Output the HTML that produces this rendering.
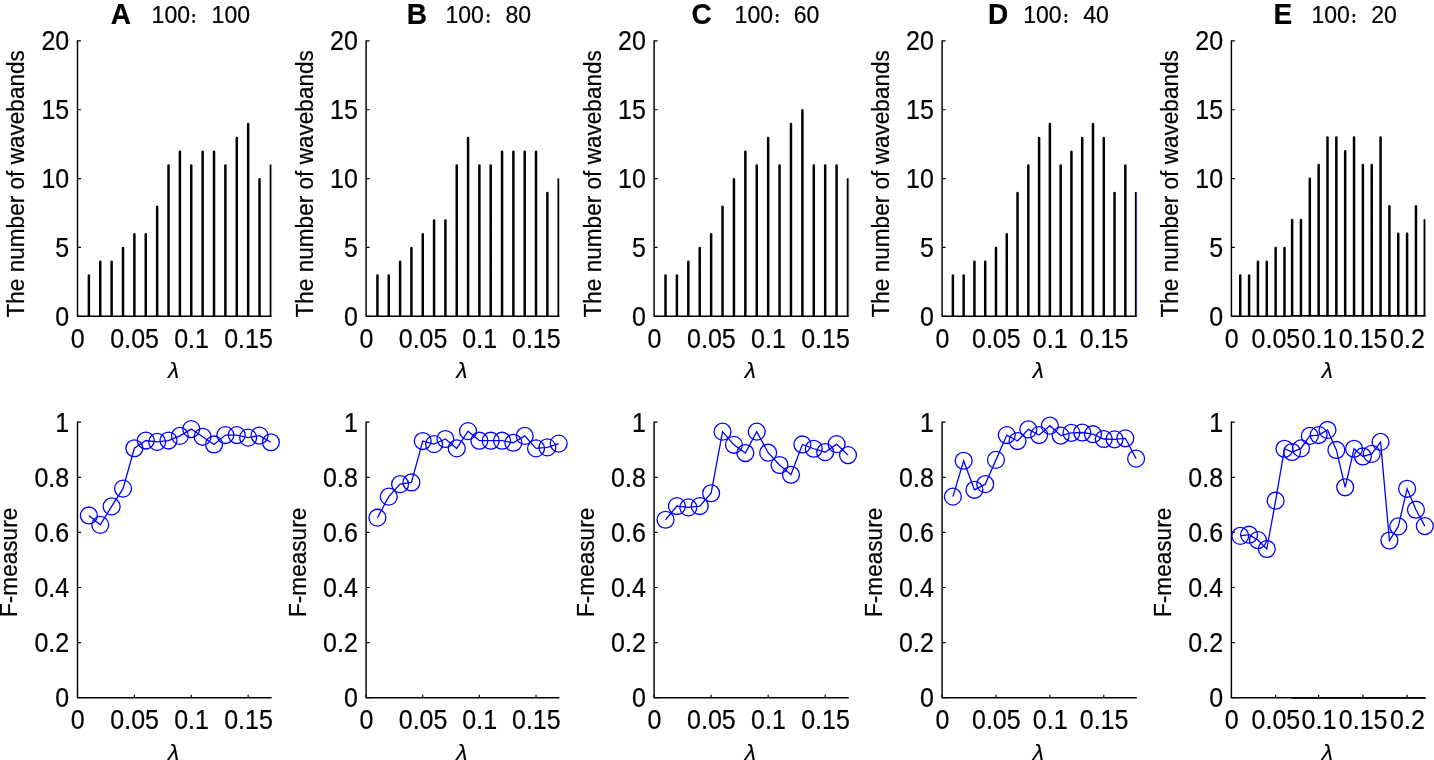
<!DOCTYPE html>
<html lang="en">
<head>
<meta charset="utf-8">
<title>Number of wavebands and F-measure versus lambda</title>
<style>
html,body{margin:0;padding:0;background:#fff;}
body{width:1434px;height:760px;overflow:hidden;}
svg{display:block;will-change:transform;}
svg text{font-family:"Liberation Sans", Arial, Helvetica, sans-serif;fill:#000;stroke:#000;stroke-width:0.22px;stroke-linejoin:round;}
svg text.cjk{font-family:"Liberation Sans","Noto Serif CJK SC","Noto Sans CJK SC",serif;font-weight:900;stroke-width:0;}
</style>
</head>
<body>
<svg width="1434" height="760" viewBox="0 0 1434 760">
<rect width="1434" height="760" fill="#fff"/>
<text transform="translate(110.7 24) scale(0.946 1)" font-size="29.6" text-anchor="start" font-weight="bold" stroke-width="0.1">A</text>
<text x="151.6" y="22.7" font-size="23" text-anchor="start">100</text>
<text x="189.5" y="22.95" font-size="14.6" text-anchor="start" lang="zh-CN" class="cjk">：</text>
<text x="211.6" y="22.7" font-size="23" text-anchor="start">100</text>
<path d="M77.5 40.17V316.3H271.62" fill="none" stroke="#000" stroke-width="1.45" stroke-linejoin="round"/>
<text transform="translate(69.2 325.7) scale(0.9328 1)" font-size="26.8" text-anchor="end">0</text>
<text transform="translate(69.2 256.85) scale(0.9328 1)" font-size="26.8" text-anchor="end">5</text>
<text transform="translate(69.2 188) scale(0.9328 1)" font-size="26.8" text-anchor="end">10</text>
<text transform="translate(69.2 119.15) scale(0.9328 1)" font-size="26.8" text-anchor="end">15</text>
<text transform="translate(69.2 50.3) scale(0.9328 1)" font-size="26.8" text-anchor="end">20</text>
<text transform="translate(77.8 347.9) scale(0.9328 1)" font-size="26.8" text-anchor="middle">0</text>
<text transform="translate(134.68 347.9) scale(0.9328 1)" font-size="26.8" text-anchor="middle">0.05</text>
<text transform="translate(191.56 347.9) scale(0.9328 1)" font-size="26.8" text-anchor="middle">0.1</text>
<text transform="translate(248.45 347.9) scale(0.9328 1)" font-size="26.8" text-anchor="middle">0.15</text>
<path d="M77.5 316.3h3.5M77.5 247.45h3.5M77.5 178.6h3.5M77.5 109.75h3.5M77.5 40.9h3.5" fill="none" stroke="#000" stroke-width="1.2"/>
<text x="173.5" y="378.3" font-size="22.6" text-anchor="middle" font-style="italic">λ</text>
<text transform="translate(23.9 183.8) rotate(-90) scale(0.975 1)" font-size="23.18" text-anchor="middle">The number of wavebands</text>
<path d="M88.88 315.6V275.59M100.25 315.6V261.82M111.63 315.6V261.82M123.01 315.6V248.05M134.38 315.6V234.28M145.76 315.6V234.28M157.14 315.6V206.74M168.51 315.6V165.43M179.89 315.6V151.66M191.26 315.6V165.43M202.64 315.6V151.66M214.02 315.6V151.66M225.39 315.6V165.43M236.77 315.6V137.89M248.15 315.6V124.12M259.52 315.6V179.2" fill="none" stroke="#000" stroke-width="2.5" stroke-linecap="round"/>
<rect x="269.65" y="164.53" width="1.7" height="151.77" fill="#000"/>
<rect x="271.35" y="164.53" width="0.7" height="151.77" fill="#5555b5" fill-opacity="0.4"/>
<path d="M77.5 421.47V697.7H271.62" fill="none" stroke="#000" stroke-width="1.45" stroke-linejoin="round"/>
<text transform="translate(69.2 707.1) scale(0.9328 1)" font-size="26.8" text-anchor="end">0</text>
<text transform="translate(69.2 652) scale(0.9328 1)" font-size="26.8" text-anchor="end">0.2</text>
<text transform="translate(69.2 596.9) scale(0.9328 1)" font-size="26.8" text-anchor="end">0.4</text>
<text transform="translate(69.2 541.8) scale(0.9328 1)" font-size="26.8" text-anchor="end">0.6</text>
<text transform="translate(69.2 486.7) scale(0.9328 1)" font-size="26.8" text-anchor="end">0.8</text>
<text transform="translate(69.2 431.6) scale(0.9328 1)" font-size="26.8" text-anchor="end">1</text>
<text transform="translate(77.8 729.3) scale(0.9328 1)" font-size="26.8" text-anchor="middle">0</text>
<text transform="translate(134.68 729.3) scale(0.9328 1)" font-size="26.8" text-anchor="middle">0.05</text>
<text transform="translate(191.56 729.3) scale(0.9328 1)" font-size="26.8" text-anchor="middle">0.1</text>
<text transform="translate(248.45 729.3) scale(0.9328 1)" font-size="26.8" text-anchor="middle">0.15</text>
<path d="M77.5 697.7h3.5M77.5 642.6h3.5M77.5 587.5h3.5M77.5 532.4h3.5M77.5 477.3h3.5M77.5 422.2h3.5M77.5 697.7v-3M134.38 697.7v-3M191.26 697.7v-3M248.15 697.7v-3" fill="none" stroke="#000" stroke-width="1.2"/>
<text x="173.5" y="759.7" font-size="22.6" text-anchor="middle" font-style="italic">λ</text>
<text transform="translate(17 562.35) rotate(-90) scale(0.975 1)" font-size="23.18" text-anchor="middle">F-measure</text>
<polyline points="88.88,515.46 100.25,524.87 111.63,506.4 123.01,488.61 134.38,448.24 145.76,440.54 157.14,441.91 168.51,440.54 179.89,435.92 191.26,429.08 202.64,436.78 214.02,444.47 225.39,435.07 236.77,435.07 248.15,437.63 259.52,435.58 270.9,442.25" fill="none" stroke="#00f" stroke-width="1.3" stroke-linejoin="miter"/>
<g fill="none" stroke="#00f" stroke-width="1.3"><circle cx="88.88" cy="515.46" r="8.45"/><circle cx="100.25" cy="524.87" r="8.45"/><circle cx="111.63" cy="506.4" r="8.45"/><circle cx="123.01" cy="488.61" r="8.45"/><circle cx="134.38" cy="448.24" r="8.45"/><circle cx="145.76" cy="440.54" r="8.45"/><circle cx="157.14" cy="441.91" r="8.45"/><circle cx="168.51" cy="440.54" r="8.45"/><circle cx="179.89" cy="435.92" r="8.45"/><circle cx="191.26" cy="429.08" r="8.45"/><circle cx="202.64" cy="436.78" r="8.45"/><circle cx="214.02" cy="444.47" r="8.45"/><circle cx="225.39" cy="435.07" r="8.45"/><circle cx="236.77" cy="435.07" r="8.45"/><circle cx="248.15" cy="437.63" r="8.45"/><circle cx="259.52" cy="435.58" r="8.45"/><circle cx="270.9" cy="442.25" r="8.45"/></g>
<text transform="translate(406.8 24) scale(0.946 1)" font-size="29.6" text-anchor="start" font-weight="bold" stroke-width="0.1">B</text>
<text x="445.4" y="22.7" font-size="23" text-anchor="start">100</text>
<text x="484" y="22.95" font-size="14.6" text-anchor="start" lang="zh-CN" class="cjk">：</text>
<text x="505.4" y="22.7" font-size="23" text-anchor="start">80</text>
<path d="M366.1 40.17V316.3H559.43" fill="none" stroke="#000" stroke-width="1.45" stroke-linejoin="round"/>
<text transform="translate(357.8 325.7) scale(0.9328 1)" font-size="26.8" text-anchor="end">0</text>
<text transform="translate(357.8 256.85) scale(0.9328 1)" font-size="26.8" text-anchor="end">5</text>
<text transform="translate(357.8 188) scale(0.9328 1)" font-size="26.8" text-anchor="end">10</text>
<text transform="translate(357.8 119.15) scale(0.9328 1)" font-size="26.8" text-anchor="end">15</text>
<text transform="translate(357.8 50.3) scale(0.9328 1)" font-size="26.8" text-anchor="end">20</text>
<text transform="translate(366.4 347.9) scale(0.9328 1)" font-size="26.8" text-anchor="middle">0</text>
<text transform="translate(423.05 347.9) scale(0.9328 1)" font-size="26.8" text-anchor="middle">0.05</text>
<text transform="translate(479.69 347.9) scale(0.9328 1)" font-size="26.8" text-anchor="middle">0.1</text>
<text transform="translate(536.34 347.9) scale(0.9328 1)" font-size="26.8" text-anchor="middle">0.15</text>
<path d="M366.1 316.3h3.5M366.1 247.45h3.5M366.1 178.6h3.5M366.1 109.75h3.5M366.1 40.9h3.5" fill="none" stroke="#000" stroke-width="1.2"/>
<text x="461.7" y="378.3" font-size="22.6" text-anchor="middle" font-style="italic">λ</text>
<text transform="translate(312.5 183.8) rotate(-90) scale(0.975 1)" font-size="23.18" text-anchor="middle">The number of wavebands</text>
<path d="M377.43 315.6V275.59M388.76 315.6V275.59M400.09 315.6V261.82M411.42 315.6V248.05M422.75 315.6V234.28M434.08 315.6V220.51M445.41 315.6V220.51M456.74 315.6V165.43M468.06 315.6V137.89M479.39 315.6V165.43M490.72 315.6V165.43M502.05 315.6V151.66M513.38 315.6V151.66M524.71 315.6V151.66M536.04 315.6V151.66M547.37 315.6V192.97" fill="none" stroke="#000" stroke-width="2.5" stroke-linecap="round"/>
<rect x="557.45" y="178.3" width="1.7" height="138" fill="#000"/>
<rect x="559.15" y="178.3" width="0.7" height="138" fill="#6a6ad0" fill-opacity="0.35"/>
<path d="M366.1 421.47V697.7H559.43" fill="none" stroke="#000" stroke-width="1.45" stroke-linejoin="round"/>
<text transform="translate(357.8 707.1) scale(0.9328 1)" font-size="26.8" text-anchor="end">0</text>
<text transform="translate(357.8 652) scale(0.9328 1)" font-size="26.8" text-anchor="end">0.2</text>
<text transform="translate(357.8 596.9) scale(0.9328 1)" font-size="26.8" text-anchor="end">0.4</text>
<text transform="translate(357.8 541.8) scale(0.9328 1)" font-size="26.8" text-anchor="end">0.6</text>
<text transform="translate(357.8 486.7) scale(0.9328 1)" font-size="26.8" text-anchor="end">0.8</text>
<text transform="translate(357.8 431.6) scale(0.9328 1)" font-size="26.8" text-anchor="end">1</text>
<text transform="translate(366.4 729.3) scale(0.9328 1)" font-size="26.8" text-anchor="middle">0</text>
<text transform="translate(423.05 729.3) scale(0.9328 1)" font-size="26.8" text-anchor="middle">0.05</text>
<text transform="translate(479.69 729.3) scale(0.9328 1)" font-size="26.8" text-anchor="middle">0.1</text>
<text transform="translate(536.34 729.3) scale(0.9328 1)" font-size="26.8" text-anchor="middle">0.15</text>
<path d="M366.1 697.7h3.5M366.1 642.6h3.5M366.1 587.5h3.5M366.1 532.4h3.5M366.1 477.3h3.5M366.1 422.2h3.5M366.1 697.7v-3M422.75 697.7v-3M479.39 697.7v-3M536.04 697.7v-3" fill="none" stroke="#000" stroke-width="1.2"/>
<text x="461.7" y="759.7" font-size="22.6" text-anchor="middle" font-style="italic">λ</text>
<text transform="translate(305.6 562.35) rotate(-90) scale(0.975 1)" font-size="23.18" text-anchor="middle">F-measure</text>
<polyline points="377.43,517.69 388.76,496.65 400.09,484.16 411.42,482.45 422.75,441.05 434.08,444.13 445.41,439 456.74,448.41 468.06,431.13 479.39,440.71 490.72,440.71 502.05,440.71 513.38,442.76 524.71,435.92 536.04,448.41 547.37,447.38 558.7,443.62" fill="none" stroke="#00f" stroke-width="1.3" stroke-linejoin="miter"/>
<g fill="none" stroke="#00f" stroke-width="1.3"><circle cx="377.43" cy="517.69" r="8.45"/><circle cx="388.76" cy="496.65" r="8.45"/><circle cx="400.09" cy="484.16" r="8.45"/><circle cx="411.42" cy="482.45" r="8.45"/><circle cx="422.75" cy="441.05" r="8.45"/><circle cx="434.08" cy="444.13" r="8.45"/><circle cx="445.41" cy="439" r="8.45"/><circle cx="456.74" cy="448.41" r="8.45"/><circle cx="468.06" cy="431.13" r="8.45"/><circle cx="479.39" cy="440.71" r="8.45"/><circle cx="490.72" cy="440.71" r="8.45"/><circle cx="502.05" cy="440.71" r="8.45"/><circle cx="513.38" cy="442.76" r="8.45"/><circle cx="524.71" cy="435.92" r="8.45"/><circle cx="536.04" cy="448.41" r="8.45"/><circle cx="547.37" cy="447.38" r="8.45"/><circle cx="558.7" cy="443.62" r="8.45"/></g>
<text transform="translate(691.6 24) scale(0.946 1)" font-size="29.6" text-anchor="start" font-weight="bold" stroke-width="0.1">C</text>
<text x="734.6" y="22.7" font-size="23" text-anchor="start">100</text>
<text x="772.9" y="22.95" font-size="14.6" text-anchor="start" lang="zh-CN" class="cjk">：</text>
<text x="793.7" y="22.7" font-size="23" text-anchor="start">60</text>
<path d="M654.1 40.17V316.3H848.73" fill="none" stroke="#000" stroke-width="1.45" stroke-linejoin="round"/>
<text transform="translate(645.8 325.7) scale(0.9328 1)" font-size="26.8" text-anchor="end">0</text>
<text transform="translate(645.8 256.85) scale(0.9328 1)" font-size="26.8" text-anchor="end">5</text>
<text transform="translate(645.8 188) scale(0.9328 1)" font-size="26.8" text-anchor="end">10</text>
<text transform="translate(645.8 119.15) scale(0.9328 1)" font-size="26.8" text-anchor="end">15</text>
<text transform="translate(645.8 50.3) scale(0.9328 1)" font-size="26.8" text-anchor="end">20</text>
<text transform="translate(654.4 347.9) scale(0.9328 1)" font-size="26.8" text-anchor="middle">0</text>
<text transform="translate(711.43 347.9) scale(0.9328 1)" font-size="26.8" text-anchor="middle">0.05</text>
<text transform="translate(768.46 347.9) scale(0.9328 1)" font-size="26.8" text-anchor="middle">0.1</text>
<text transform="translate(825.49 347.9) scale(0.9328 1)" font-size="26.8" text-anchor="middle">0.15</text>
<path d="M654.1 316.3h3.5M654.1 247.45h3.5M654.1 178.6h3.5M654.1 109.75h3.5M654.1 40.9h3.5" fill="none" stroke="#000" stroke-width="1.2"/>
<text x="750.35" y="378.3" font-size="22.6" text-anchor="middle" font-style="italic">λ</text>
<text transform="translate(600.5 183.8) rotate(-90) scale(0.975 1)" font-size="23.18" text-anchor="middle">The number of wavebands</text>
<path d="M665.51 315.6V275.59M676.91 315.6V275.59M688.32 315.6V261.82M699.72 315.6V248.05M711.13 315.6V234.28M722.54 315.6V206.74M733.94 315.6V179.2M745.35 315.6V151.66M756.75 315.6V165.43M768.16 315.6V137.89M779.56 315.6V165.43M790.97 315.6V124.12M802.38 315.6V110.35M813.78 315.6V165.43M825.19 315.6V165.43M836.59 315.6V165.43" fill="none" stroke="#000" stroke-width="2.5" stroke-linecap="round"/>
<rect x="846.75" y="178.3" width="1.8" height="138" fill="#000"/>
<rect x="848.55" y="178.3" width="0.7" height="138" fill="#50508a" fill-opacity="0.6"/>
<path d="M654.1 421.47V697.7H848.73" fill="none" stroke="#000" stroke-width="1.45" stroke-linejoin="round"/>
<text transform="translate(645.8 707.1) scale(0.9328 1)" font-size="26.8" text-anchor="end">0</text>
<text transform="translate(645.8 652) scale(0.9328 1)" font-size="26.8" text-anchor="end">0.2</text>
<text transform="translate(645.8 596.9) scale(0.9328 1)" font-size="26.8" text-anchor="end">0.4</text>
<text transform="translate(645.8 541.8) scale(0.9328 1)" font-size="26.8" text-anchor="end">0.6</text>
<text transform="translate(645.8 486.7) scale(0.9328 1)" font-size="26.8" text-anchor="end">0.8</text>
<text transform="translate(645.8 431.6) scale(0.9328 1)" font-size="26.8" text-anchor="end">1</text>
<text transform="translate(654.4 729.3) scale(0.9328 1)" font-size="26.8" text-anchor="middle">0</text>
<text transform="translate(711.43 729.3) scale(0.9328 1)" font-size="26.8" text-anchor="middle">0.05</text>
<text transform="translate(768.46 729.3) scale(0.9328 1)" font-size="26.8" text-anchor="middle">0.1</text>
<text transform="translate(825.49 729.3) scale(0.9328 1)" font-size="26.8" text-anchor="middle">0.15</text>
<path d="M654.1 697.7h3.5M654.1 642.6h3.5M654.1 587.5h3.5M654.1 532.4h3.5M654.1 477.3h3.5M654.1 422.2h3.5M654.1 697.7v-3M711.13 697.7v-3M768.16 697.7v-3M825.19 697.7v-3" fill="none" stroke="#000" stroke-width="1.2"/>
<text x="750.35" y="759.7" font-size="22.6" text-anchor="middle" font-style="italic">λ</text>
<text transform="translate(593.6 562.35) rotate(-90) scale(0.975 1)" font-size="23.18" text-anchor="middle">F-measure</text>
<polyline points="665.51,519.74 676.91,506.06 688.32,507.42 699.72,506.06 711.13,493.23 722.54,431.65 733.94,444.82 745.35,453.03 756.75,431.65 768.16,452.69 779.56,465 790.97,474.75 802.38,444.47 813.78,448.75 825.19,452.17 836.59,444.13 848,455.08" fill="none" stroke="#00f" stroke-width="1.3" stroke-linejoin="miter"/>
<g fill="none" stroke="#00f" stroke-width="1.3"><circle cx="665.51" cy="519.74" r="8.45"/><circle cx="676.91" cy="506.06" r="8.45"/><circle cx="688.32" cy="507.42" r="8.45"/><circle cx="699.72" cy="506.06" r="8.45"/><circle cx="711.13" cy="493.23" r="8.45"/><circle cx="722.54" cy="431.65" r="8.45"/><circle cx="733.94" cy="444.82" r="8.45"/><circle cx="745.35" cy="453.03" r="8.45"/><circle cx="756.75" cy="431.65" r="8.45"/><circle cx="768.16" cy="452.69" r="8.45"/><circle cx="779.56" cy="465" r="8.45"/><circle cx="790.97" cy="474.75" r="8.45"/><circle cx="802.38" cy="444.47" r="8.45"/><circle cx="813.78" cy="448.75" r="8.45"/><circle cx="825.19" cy="452.17" r="8.45"/><circle cx="836.59" cy="444.13" r="8.45"/><circle cx="848" cy="455.08" r="8.45"/></g>
<text transform="translate(988 24) scale(0.946 1)" font-size="29.6" text-anchor="start" font-weight="bold" stroke-width="0.1">D</text>
<text x="1023.2" y="22.7" font-size="23" text-anchor="start">100</text>
<text x="1061.7" y="22.95" font-size="14.6" text-anchor="start" lang="zh-CN" class="cjk">：</text>
<text x="1083.2" y="22.7" font-size="23" text-anchor="start">40</text>
<path d="M942.1 40.17V316.3H1136.82" fill="none" stroke="#000" stroke-width="1.45" stroke-linejoin="round"/>
<text transform="translate(933.8 325.7) scale(0.9328 1)" font-size="26.8" text-anchor="end">0</text>
<text transform="translate(933.8 256.85) scale(0.9328 1)" font-size="26.8" text-anchor="end">5</text>
<text transform="translate(933.8 188) scale(0.9328 1)" font-size="26.8" text-anchor="end">10</text>
<text transform="translate(933.8 119.15) scale(0.9328 1)" font-size="26.8" text-anchor="end">15</text>
<text transform="translate(933.8 50.3) scale(0.9328 1)" font-size="26.8" text-anchor="end">20</text>
<text transform="translate(942.4 347.9) scale(0.9328 1)" font-size="26.8" text-anchor="middle">0</text>
<text transform="translate(996.29 347.9) scale(0.9328 1)" font-size="26.8" text-anchor="middle">0.05</text>
<text transform="translate(1050.18 347.9) scale(0.9328 1)" font-size="26.8" text-anchor="middle">0.1</text>
<text transform="translate(1104.07 347.9) scale(0.9328 1)" font-size="26.8" text-anchor="middle">0.15</text>
<path d="M942.1 316.3h3.5M942.1 247.45h3.5M942.1 178.6h3.5M942.1 109.75h3.5M942.1 40.9h3.5" fill="none" stroke="#000" stroke-width="1.2"/>
<text x="1038.4" y="378.3" font-size="22.6" text-anchor="middle" font-style="italic">λ</text>
<text transform="translate(888.5 183.8) rotate(-90) scale(0.975 1)" font-size="23.18" text-anchor="middle">The number of wavebands</text>
<path d="M952.88 315.6V275.59M963.66 315.6V275.59M974.43 315.6V261.82M985.21 315.6V261.82M995.99 315.6V248.05M1006.77 315.6V234.28M1017.54 315.6V192.97M1028.32 315.6V165.43M1039.1 315.6V137.89M1049.88 315.6V124.12M1060.66 315.6V165.43M1071.43 315.6V151.66M1082.21 315.6V137.89M1092.99 315.6V124.12M1103.77 315.6V137.89M1114.54 315.6V192.97M1125.32 315.6V165.43" fill="none" stroke="#000" stroke-width="2.5" stroke-linecap="round"/>
<rect x="1134.85" y="192.07" width="1.3" height="124.23" fill="#000"/>
<rect x="1136.15" y="192.07" width="0.95" height="124.23" fill="#20207c" fill-opacity="0.95"/>
<path d="M942.1 421.47V697.7H1136.82" fill="none" stroke="#000" stroke-width="1.45" stroke-linejoin="round"/>
<text transform="translate(933.8 707.1) scale(0.9328 1)" font-size="26.8" text-anchor="end">0</text>
<text transform="translate(933.8 652) scale(0.9328 1)" font-size="26.8" text-anchor="end">0.2</text>
<text transform="translate(933.8 596.9) scale(0.9328 1)" font-size="26.8" text-anchor="end">0.4</text>
<text transform="translate(933.8 541.8) scale(0.9328 1)" font-size="26.8" text-anchor="end">0.6</text>
<text transform="translate(933.8 486.7) scale(0.9328 1)" font-size="26.8" text-anchor="end">0.8</text>
<text transform="translate(933.8 431.6) scale(0.9328 1)" font-size="26.8" text-anchor="end">1</text>
<text transform="translate(942.4 729.3) scale(0.9328 1)" font-size="26.8" text-anchor="middle">0</text>
<text transform="translate(996.29 729.3) scale(0.9328 1)" font-size="26.8" text-anchor="middle">0.05</text>
<text transform="translate(1050.18 729.3) scale(0.9328 1)" font-size="26.8" text-anchor="middle">0.1</text>
<text transform="translate(1104.07 729.3) scale(0.9328 1)" font-size="26.8" text-anchor="middle">0.15</text>
<path d="M942.1 697.7h3.5M942.1 642.6h3.5M942.1 587.5h3.5M942.1 532.4h3.5M942.1 477.3h3.5M942.1 422.2h3.5M942.1 697.7v-3M995.99 697.7v-3M1049.88 697.7v-3M1103.77 697.7v-3" fill="none" stroke="#000" stroke-width="1.2"/>
<text x="1038.4" y="759.7" font-size="22.6" text-anchor="middle" font-style="italic">λ</text>
<text transform="translate(881.6 562.35) rotate(-90) scale(0.975 1)" font-size="23.18" text-anchor="middle">F-measure</text>
<polyline points="952.88,496.65 963.66,460.73 974.43,489.8 985.21,484.16 995.99,459.87 1006.77,435.07 1017.54,441.05 1028.32,429.42 1039.1,435.07 1049.88,425.66 1060.66,435.58 1071.43,432.84 1082.21,432.5 1092.99,434.21 1103.77,439 1114.54,439.34 1125.32,438.32 1136.1,458.67" fill="none" stroke="#00f" stroke-width="1.3" stroke-linejoin="miter"/>
<g fill="none" stroke="#00f" stroke-width="1.3"><circle cx="952.88" cy="496.65" r="8.45"/><circle cx="963.66" cy="460.73" r="8.45"/><circle cx="974.43" cy="489.8" r="8.45"/><circle cx="985.21" cy="484.16" r="8.45"/><circle cx="995.99" cy="459.87" r="8.45"/><circle cx="1006.77" cy="435.07" r="8.45"/><circle cx="1017.54" cy="441.05" r="8.45"/><circle cx="1028.32" cy="429.42" r="8.45"/><circle cx="1039.1" cy="435.07" r="8.45"/><circle cx="1049.88" cy="425.66" r="8.45"/><circle cx="1060.66" cy="435.58" r="8.45"/><circle cx="1071.43" cy="432.84" r="8.45"/><circle cx="1082.21" cy="432.5" r="8.45"/><circle cx="1092.99" cy="434.21" r="8.45"/><circle cx="1103.77" cy="439" r="8.45"/><circle cx="1114.54" cy="439.34" r="8.45"/><circle cx="1125.32" cy="438.32" r="8.45"/><circle cx="1136.1" cy="458.67" r="8.45"/></g>
<text transform="translate(1273.4 24) scale(0.946 1)" font-size="29.6" text-anchor="start" font-weight="bold" stroke-width="0.1">E</text>
<text x="1311.4" y="22.7" font-size="23" text-anchor="start">100</text>
<text x="1349.8" y="22.95" font-size="14.6" text-anchor="start" lang="zh-CN" class="cjk">：</text>
<text x="1371.3" y="22.7" font-size="23" text-anchor="start">20</text>
<path d="M1231.4 40.17V316.3H1290.4" fill="none" stroke="#000" stroke-width="1.45" stroke-linejoin="round"/>
<path d="M1290.2 315.85H1425.52" fill="none" stroke="#000" stroke-width="1.6"/>
<text transform="translate(1223.1 325.7) scale(0.9328 1)" font-size="26.8" text-anchor="end">0</text>
<text transform="translate(1223.1 256.85) scale(0.9328 1)" font-size="26.8" text-anchor="end">5</text>
<text transform="translate(1223.1 188) scale(0.9328 1)" font-size="26.8" text-anchor="end">10</text>
<text transform="translate(1223.1 119.15) scale(0.9328 1)" font-size="26.8" text-anchor="end">15</text>
<text transform="translate(1223.1 50.3) scale(0.9328 1)" font-size="26.8" text-anchor="end">20</text>
<text transform="translate(1231.7 347.9) scale(0.9328 1)" font-size="26.8" text-anchor="middle">0</text>
<text transform="translate(1275.93 347.9) scale(0.9328 1)" font-size="26.8" text-anchor="middle">0.05</text>
<text transform="translate(1318.95 347.9) scale(0.9328 1)" font-size="26.8" text-anchor="middle">0.1</text>
<text transform="translate(1363.18 347.9) scale(0.9328 1)" font-size="26.8" text-anchor="middle">0.15</text>
<text transform="translate(1407.41 347.9) scale(0.9328 1)" font-size="26.8" text-anchor="middle">0.2</text>
<path d="M1231.4 316.3h3.5M1231.4 247.45h3.5M1231.4 178.6h3.5M1231.4 109.75h3.5M1231.4 40.9h3.5" fill="none" stroke="#000" stroke-width="1.2"/>
<text x="1327.4" y="378.3" font-size="22.6" text-anchor="middle" font-style="italic">λ</text>
<text transform="translate(1177.8 183.8) rotate(-90) scale(0.975 1)" font-size="23.18" text-anchor="middle">The number of wavebands</text>
<path d="M1240.25 315.6V275.59M1249.09 315.6V275.59M1257.94 315.6V261.82M1266.78 315.6V261.82M1275.63 315.6V248.05M1284.47 315.6V248.05M1292.12 315.15V220.06M1300.96 315.15V220.06M1309.81 315.15V178.75M1318.65 315.15V164.98M1327.5 315.15V137.44M1336.35 315.15V137.44M1345.19 315.15V151.21M1354.04 315.15V137.44M1362.88 315.15V164.98M1371.73 315.15V164.98M1380.57 315.15V137.44M1389.42 315.15V206.29M1398.26 315.15V233.83M1407.11 315.15V233.83M1415.95 315.15V206.29" fill="none" stroke="#000" stroke-width="2.5" stroke-linecap="round"/>
<rect x="1423.55" y="219.16" width="1.85" height="96.69" fill="#000"/>
<path d="M1231.4 421.47V697.7H1425.52" fill="none" stroke="#000" stroke-width="1.45" stroke-linejoin="round"/>
<path d="M1291.2 698.05H1425.52" fill="none" stroke="#000" stroke-width="1.5"/>
<text transform="translate(1223.1 707.1) scale(0.9328 1)" font-size="26.8" text-anchor="end">0</text>
<text transform="translate(1223.1 652) scale(0.9328 1)" font-size="26.8" text-anchor="end">0.2</text>
<text transform="translate(1223.1 596.9) scale(0.9328 1)" font-size="26.8" text-anchor="end">0.4</text>
<text transform="translate(1223.1 541.8) scale(0.9328 1)" font-size="26.8" text-anchor="end">0.6</text>
<text transform="translate(1223.1 486.7) scale(0.9328 1)" font-size="26.8" text-anchor="end">0.8</text>
<text transform="translate(1223.1 431.6) scale(0.9328 1)" font-size="26.8" text-anchor="end">1</text>
<text transform="translate(1231.7 729.3) scale(0.9328 1)" font-size="26.8" text-anchor="middle">0</text>
<text transform="translate(1275.93 729.3) scale(0.9328 1)" font-size="26.8" text-anchor="middle">0.05</text>
<text transform="translate(1318.95 729.3) scale(0.9328 1)" font-size="26.8" text-anchor="middle">0.1</text>
<text transform="translate(1363.18 729.3) scale(0.9328 1)" font-size="26.8" text-anchor="middle">0.15</text>
<text transform="translate(1407.41 729.3) scale(0.9328 1)" font-size="26.8" text-anchor="middle">0.2</text>
<path d="M1231.4 697.7h3.5M1231.4 642.6h3.5M1231.4 587.5h3.5M1231.4 532.4h3.5M1231.4 477.3h3.5M1231.4 422.2h3.5M1231.4 697.7v-3M1275.63 697.7v-3M1318.65 697.7v-3M1362.88 697.7v-3M1407.11 697.7v-3" fill="none" stroke="#000" stroke-width="1.2"/>
<text x="1327.4" y="759.7" font-size="22.6" text-anchor="middle" font-style="italic">λ</text>
<text transform="translate(1170.9 562.35) rotate(-90) scale(0.975 1)" font-size="23.18" text-anchor="middle">F-measure</text>
<polyline points="1240.25,535.9 1249.09,534.7 1257.94,540.1 1266.78,549 1275.63,500.7 1284.47,448.75 1292.12,452 1300.96,448.41 1309.81,435.92 1318.65,435.07 1327.5,429.93 1336.35,449.95 1345.19,487.3 1354.04,448.75 1362.88,456.45 1371.73,453.88 1380.57,441.91 1389.42,540.5 1398.26,526.4 1407.11,488.8 1415.95,509.7 1424.8,526.1" fill="none" stroke="#00f" stroke-width="1.3" stroke-linejoin="miter"/>
<g fill="none" stroke="#00f" stroke-width="1.3"><circle cx="1240.25" cy="535.9" r="8.45"/><circle cx="1249.09" cy="534.7" r="8.45"/><circle cx="1257.94" cy="540.1" r="8.45"/><circle cx="1266.78" cy="549" r="8.45"/><circle cx="1275.63" cy="500.7" r="8.45"/><circle cx="1284.47" cy="448.75" r="8.45"/><circle cx="1292.12" cy="452" r="8.45"/><circle cx="1300.96" cy="448.41" r="8.45"/><circle cx="1309.81" cy="435.92" r="8.45"/><circle cx="1318.65" cy="435.07" r="8.45"/><circle cx="1327.5" cy="429.93" r="8.45"/><circle cx="1336.35" cy="449.95" r="8.45"/><circle cx="1345.19" cy="487.3" r="8.45"/><circle cx="1354.04" cy="448.75" r="8.45"/><circle cx="1362.88" cy="456.45" r="8.45"/><circle cx="1371.73" cy="453.88" r="8.45"/><circle cx="1380.57" cy="441.91" r="8.45"/><circle cx="1389.42" cy="540.5" r="8.45"/><circle cx="1398.26" cy="526.4" r="8.45"/><circle cx="1407.11" cy="488.8" r="8.45"/><circle cx="1415.95" cy="509.7" r="8.45"/><circle cx="1424.8" cy="526.1" r="8.45"/></g>
</svg>
</body>
</html>
